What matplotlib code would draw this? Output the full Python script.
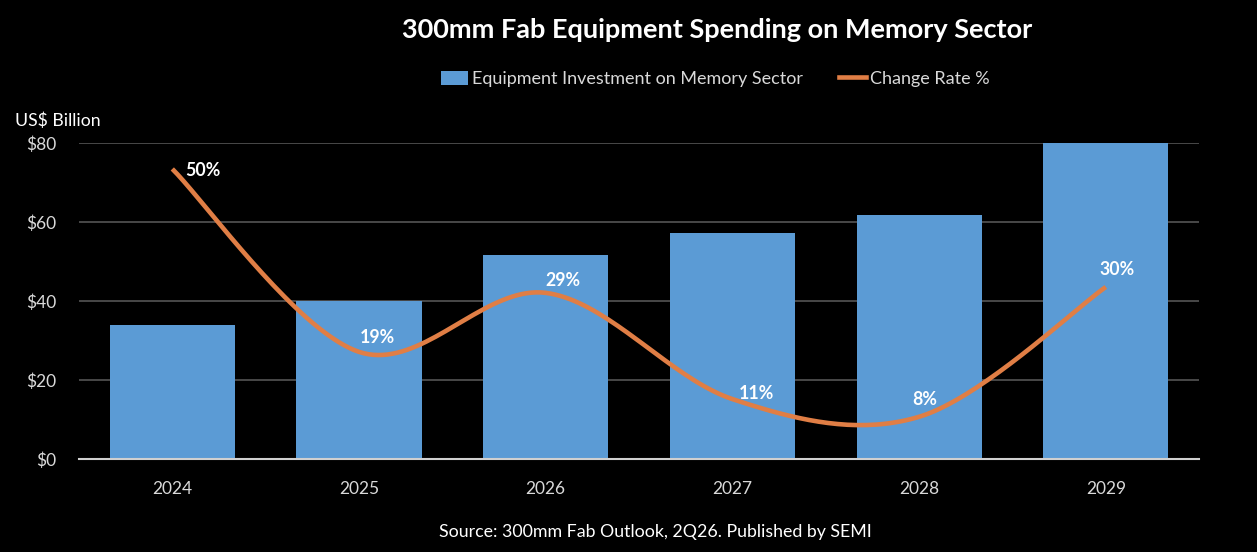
import numpy as np
import matplotlib.pyplot as plt
from matplotlib.patches import Patch
from matplotlib.lines import Line2D

# Datos
anos = ["2024", "2025", "2026", "2027", "2028", "2029"]
investimento = [33.8, 40.0, 51.7, 57.3, 61.8, 80.0]   # US$ Billion
taxa_cambio = [50, 19, 29, 11, 8, 30]                 # %
etiquetas_taxa = ["50%", "19%", "29%", "11%", "8%", "30%"]
eixo_y = [0, 20, 40, 60, 80]
etiquetas_y = ["$0", "$20", "$40", "$60", "$80"]

# Cores
azul = "#5B9BD5"
laranxa = "#E07E45"
gris_texto = "#D9D9D9"

plt.rcParams["font.family"] = ["Lato", "DejaVu Sans"]


# Curva suavizada tipo Excel (Catmull-Rom en forma de Bezier)
def suavizar(xs, ys, n=40):
    p = np.column_stack([xs, ys]).astype(float)
    p = np.vstack([p[0], p, p[-1]])
    saida = []
    for i in range(1, len(p) - 2):
        p0, p1, p2, p3 = p[i - 1], p[i], p[i + 1], p[i + 2]
        c1 = p1 + (p2 - p0) / 6
        c2 = p2 - (p3 - p1) / 6
        t = np.linspace(0, 1, n)[:, None]
        b = (1 - t)**3 * p1 + 3 * (1 - t)**2 * t * c1 + 3 * (1 - t) * t**2 * c2 + t**3 * p2
        saida.append(b if i == 1 else b[1:])
    b = np.vstack(saida)
    return b[:, 0], b[:, 1]


fig = plt.figure(figsize=(12.57, 5.52), dpi=100, facecolor="black")
ax = fig.add_axes([0.0628, 0.1685, 0.8912, 0.5725], facecolor="black")

x = np.arange(len(anos))
ax.bar(x, investimento, width=0.67, color=azul, zorder=2)

ax.set_xlim(-0.5, len(anos) - 0.5)
ax.set_ylim(0, 80)
ax.set_yticks(eixo_y)
ax.set_yticklabels(etiquetas_y)
ax.set_xticks(x)
ax.set_xticklabels(anos)
ax.tick_params(axis="both", length=0, colors=gris_texto, labelsize=12.5)
ax.tick_params(axis="x", pad=16)
ax.tick_params(axis="y", pad=16)
ax.grid(axis="y", color="#555555", linewidth=1.2, zorder=0)
for lado in ["top", "right", "left"]:
    ax.spines[lado].set_visible(False)
ax.spines["bottom"].set_color("#D0D0D0")
ax.spines["bottom"].set_linewidth(1.5)
ax.spines["bottom"].set_zorder(3)

# Eixo secundario (oculto) para a taxa de cambio
ax2 = ax.twinx()
ax2.set_ylim(0.85, 54.4)
ax2.axis("off")
xs, ys = suavizar(x, taxa_cambio)
ax2.plot(xs, ys, color=laranxa, linewidth=3.3, solid_capstyle="butt", zorder=4)

desprazamentos = [(31, -2), (18, 14), (17, 12), (24, 6), (6, 17), (11, 17)]
for xi, yi, txt, (dx, dy) in zip(x, taxa_cambio, etiquetas_taxa, desprazamentos):
    ax2.annotate(txt, (xi, yi), xytext=(dx * 0.72, dy * 0.72), textcoords="offset points",
                 ha="center", va="center", color="white", fontsize=12.8, fontweight="bold")

fig.text(0.5705, 0.945, "300mm Fab Equipment Spending on Memory Sector", ha="center", va="center",
         color="white", fontsize=19.5, fontweight="bold")
fig.text(0.012, 0.781, "US$ Billion", ha="left", va="center", color="white", fontsize=12.7)
fig.text(0.521, 0.036, "Source: 300mm Fab Outlook, 2Q26. Published by SEMI", ha="center", va="center",
         color="white", fontsize=12.8)

elementos = [Patch(facecolor=azul, label="Equipment Investment on Memory Sector"),
             Line2D([0], [0], color=laranxa, linewidth=3.3, label="Change Rate %")]
fig.legend(handles=elementos, loc="center", bbox_to_anchor=(0.569, 0.857), ncol=2, frameon=False,
           fontsize=13, labelcolor=gris_texto, handlelength=1.5, handleheight=0.8,
           handletextpad=0.2, columnspacing=2.0)

fig.savefig("out.png", dpi=100, facecolor="black")
